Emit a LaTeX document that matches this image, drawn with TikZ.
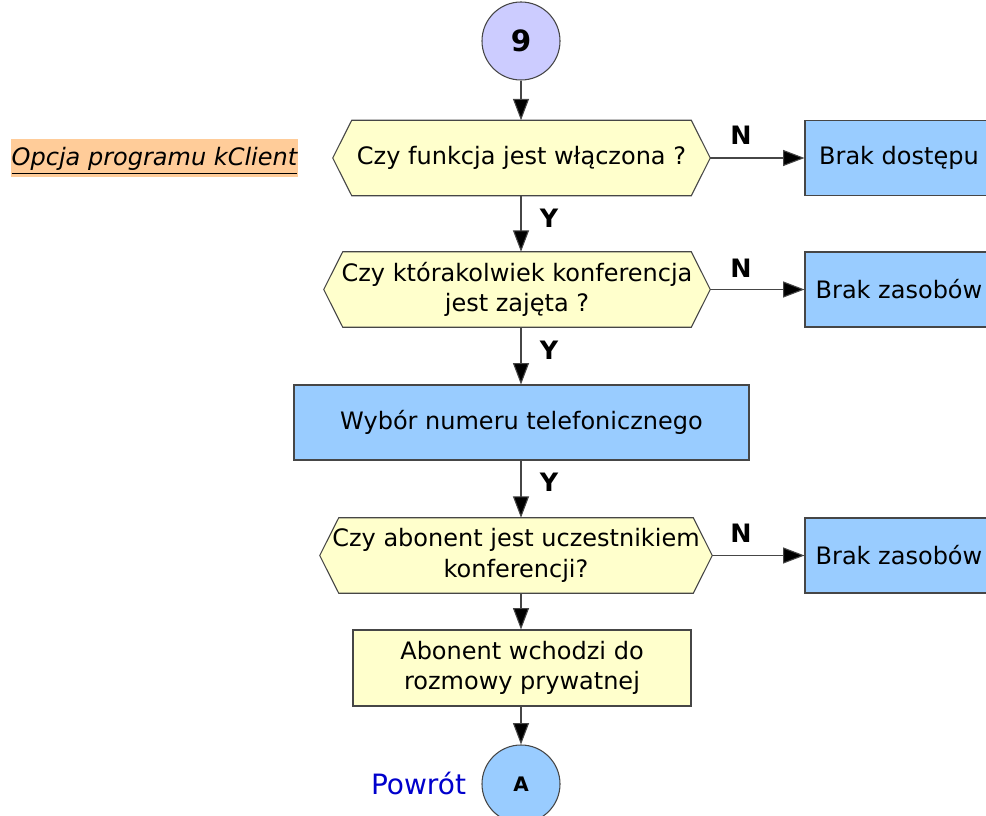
\documentclass[tikz,border=0pt]{standalone}
\usepackage{fontspec}
\setmainfont{DejaVu Sans}
\usetikzlibrary{arrows.meta,calc,backgrounds}
\definecolor{ylw}{RGB}{255,255,204}
\definecolor{blu}{RGB}{153,204,255}
\definecolor{lav}{RGB}{204,204,255}
\definecolor{org}{RGB}{255,204,153}
\definecolor{edgec}{RGB}{70,70,70}
\definecolor{pblue}{RGB}{0,0,204}
\tikzset{
  base/.style={font=\fontsize{18}{23}\selectfont, align=center, inner sep=0pt},
  hexbox/.style={base, minimum height=56.25pt},
  hexline/.style={draw=edgec, line width=0.8pt, fill=ylw},
  bluebox/.style={base, draw=edgec, line width=0.8pt, fill=blu, minimum height=56.25pt},
  ylwbox/.style={base, draw=edgec, line width=0.8pt, fill=ylw, minimum height=57pt},
  conn/.style={circle, draw=edgec, line width=0.8pt, minimum size=58.5pt, inner sep=0pt},
  arr/.style={draw=edgec, line width=0.8pt, -{Triangle[length=16pt,width=12pt,fill=black]}},
  lbl/.style={font=\bfseries\fontsize{19}{22}\selectfont, inner sep=0pt}
}
\newcommand{\hexshape}[1]{%
  \draw[hexline] (#1.west) -- ($(#1.north west)+(19,0)$) -- ($(#1.north east)+(-19,0)$) -- (#1.east) -- ($(#1.south east)+(-19,0)$) -- ($(#1.south west)+(19,0)$) -- cycle;}
\begin{document}
\begin{tikzpicture}[x=0.75pt,y=-0.75pt]
\useasboundingbox (0,0) rectangle (986,816);
\clip (0,0) rectangle (986,816);

% nodes
\node[conn, fill=lav, font=\bfseries\fontsize{22}{24}\selectfont] (c9) at (521,41) {9};
\node[hexbox, minimum width=282.75pt] (h1) at (521.5,158) {Czy funkcja jest włączona ?};
\node[hexbox, minimum width=289.5pt] (h2) at (517,289.5) {Czy którakolwiek konferencja\\jest zajęta ?};
\node[bluebox, minimum width=341.25pt] (w) at (521.5,422.5) {Wybór numeru telefonicznego};
\node[hexbox, minimum width=294pt] (h3) at (516,555.5) {Czy abonent jest uczestnikiem\\konferencji?};
\node[ylwbox, minimum width=253.5pt] (ab) at (522,668) {Abonent wchodzi do\\rozmowy prywatnej};
\node[conn, fill=blu, font=\bfseries\fontsize{15}{16}\selectfont] (cA) at (521,784) {A};

\node[bluebox, minimum width=141pt] (b1) at (899,158) {Brak dostępu};
\node[bluebox, minimum width=141pt] (b2) at (899,289.5) {Brak zasobów};
\node[bluebox, minimum width=141pt] (b3) at (899,555.5) {Brak zasobów};

\node[base, fill=org, minimum width=215.25pt, minimum height=28.5pt, text height=17pt, text depth=5pt, font=\itshape\fontsize{18}{23}\selectfont] (opt) at (154.5,158) {\underline{Opcja programu kClient}};
\node[base, text=pblue, font=\fontsize{21}{24}\selectfont] (pow) at (418.5,783) {Powrót};

\begin{scope}[on background layer]
\hexshape{h1}
\hexshape{h2}
\hexshape{h3}
\end{scope}

% connectors
\draw[arr] (c9.south) -- (c9.south |- h1.north);
\draw[arr] (h1.south -| c9) -- (c9 |- h2.north);
\draw[arr] (h2.south -| c9) -- (c9 |- w.north);
\draw[arr] (w.south -| c9) -- (c9 |- h3.north);
\draw[arr] (h3.south -| c9) -- (c9 |- ab.north);
\draw[arr] (ab.south -| c9) -- (cA.north);

\draw[arr] (h1.east) -- (b1.west);
\draw[arr] (h2.east) -- (b2.west);
\draw[arr] (h3.east) -- (b3.west);

% labels
\node[lbl] (n1) at (741,135) {N};
\node[lbl] (n2) at (741,268) {N};
\node[lbl] (n3) at (741,533) {N};
\node[lbl] (y1) at (549,218) {Y};
\node[lbl] (y2) at (549,350) {Y};
\node[lbl] (y3) at (549,482) {Y};
\end{tikzpicture}
\end{document}
